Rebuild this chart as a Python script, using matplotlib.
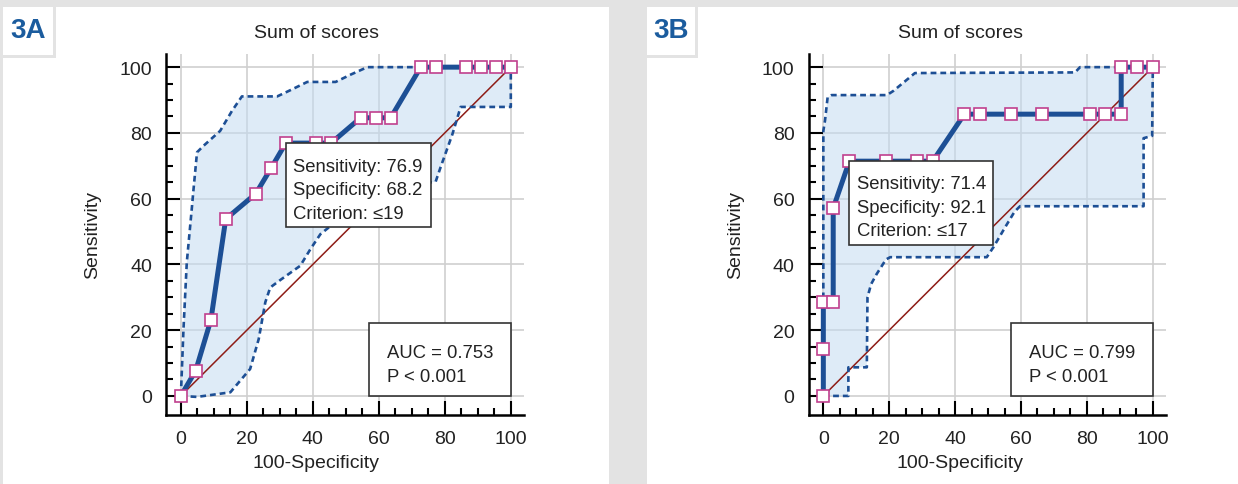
import matplotlib
matplotlib.use('Agg')
import matplotlib.pyplot as plt
from matplotlib.patches import Rectangle

plt.rcParams['font.family'] = ['Liberation Sans', 'DejaVu Sans']

# ----------------------------------------------------------------------
# data: x = 100-Specificity, y = Sensitivity
# ----------------------------------------------------------------------
a_fpr = [0, 4.5, 9.1, 13.6, 22.7, 27.3, 31.8, 40.9, 45.5, 54.5, 59.1, 63.6,
         72.7, 77.3, 86.4, 90.9, 95.5, 100]
a_sens = [0, 7.7, 23.1, 53.8, 61.5, 69.2, 76.9, 76.9, 76.9, 84.6, 84.6, 84.6,
          100, 100, 100, 100, 100, 100]
a_up_x = [0, 0.8, 1.8, 3.3, 3.8, 4.9, 6.9, 11.9, 15.5, 18.5, 29.2, 33.2,
          38.3, 46.9, 51.4, 56.5, 100]
a_up_y = [0, 20.4, 40.6, 56.8, 62.4, 74.1, 76.1, 80.6, 86.7, 91.1, 91.1, 93.0,
          95.5, 95.5, 97.7, 100, 100]
a_lo_x = [0, 4.9, 15.0, 21.0, 23.6, 25.6, 27.1, 30.2, 36.2, 39.3, 42.3, 47,
          53, 60, 76, 77.2, 78.7, 82.3, 84.8, 100, 100]
a_lo_y = [0, -0.3, 1.1, 8.2, 17.3, 28.5, 33.0, 35.3, 39.6, 44.7, 49.2, 53,
          59, 63, 65, 65.1, 69.5, 79.6, 87.9, 87.9, 100]
a_crit = ['Sensitivity: 76.9', 'Specificity: 68.2', 'Criterion: \u226419']
a_auc = ['AUC = 0.753', 'P < 0.001']

b_fpr = [0, 0, 0, 3.0, 3.0, 7.9, 19.0, 28.4, 33.2, 42.8, 47.5, 57.0, 66.5,
         80.8, 85.5, 90.4, 90.4, 95.2, 100]
b_sens = [0, 14.3, 28.6, 28.6, 57.1, 71.4, 71.4, 71.4, 71.4, 85.7, 85.7, 85.7,
          85.7, 85.7, 85.7, 85.7, 100, 100, 100]
b_up_x = [0, 0, 0.5, 1.3, 2.5, 19.3, 21.3, 27.8, 76.4, 77.9, 100]
b_up_y = [0, 80.6, 83.7, 90.8, 91.5, 91.5, 92.8, 98.2, 98.4, 100, 100]
b_lo_x = [0, 7.6, 7.6, 13.2, 13.4, 14.5, 16.2, 19.0, 20.3, 49.6, 51.6, 55.0,
          58.0, 59.7, 97.2, 97.2, 99.8, 100]
b_lo_y = [0, 0, 8.7, 8.7, 30.0, 34.0, 37.1, 41.5, 42.2, 42.2, 45.2, 51.0,
          56.0, 57.7, 57.7, 78.4, 79.1, 100]
b_crit = ['Sensitivity: 71.4', 'Specificity: 92.1', 'Criterion: \u226417']
b_auc = ['AUC = 0.799', 'P < 0.001']

W, H = 1238, 485
BG = '#e3e3e3'
BLUE = '#1d4f95'
INK = '#222222'

fig = plt.figure(figsize=(W / 100, H / 100), dpi=100)
fig.patch.set_facecolor(BG)


def px(x0, y0, x1, y1):
    # figure pixel box (from top-left) -> figure fraction rect
    return [x0 / W, 1 - y1 / H, (x1 - x0) / W, (y1 - y0) / H]


def frame(x0, x1, label, lx1):
    fig.patches.append(Rectangle((x0 / W, 0), (x1 - x0) / W, 1 - 8 / H,
                                 transform=fig.transFigure, fc='white',
                                 ec='none', zorder=-2))
    # gray gap around the label box
    fig.patches.append(Rectangle((x0 / W, 1 - 59 / H), (lx1 + 3 - x0) / W,
                                 3 / H, transform=fig.transFigure, fc=BG,
                                 ec='none', zorder=-1))
    fig.patches.append(Rectangle((lx1 / W, 1 - 59 / H), 3 / W, 51 / H,
                                 transform=fig.transFigure, fc=BG,
                                 ec='none', zorder=-1))
    fig.text((x0 + lx1) / 2 / W, 1 - 31 / H, label, ha='center', va='center',
             fontsize=20, fontweight='bold', color='#1b5c9e')


def roc_panel(rect, fpr, sens, up_x, up_y, lo_x, lo_y, crit, auc,
              crit_box, auc_box, cx):
    ax = fig.add_axes(rect, zorder=2)
    ax.set_facecolor('none')
    ax.set_xlim(-4.5, 104)
    ax.set_ylim(-5.8, 104)

    # confidence band
    ax.fill(up_x + lo_x[::-1], up_y + lo_y[::-1], fc='#c4dcf2', alpha=0.55,
            ec='none', zorder=1)
    ax.plot([0, 100], [0, 100], color='#8e1c16', lw=1.1, zorder=2)
    ax.plot(up_x, up_y, color=BLUE, lw=1.9, ls=(0, (2.2, 1.5)), zorder=3)
    ax.plot(lo_x, lo_y, color=BLUE, lw=1.9, ls=(0, (2.2, 1.5)), zorder=3)
    ax.plot(fpr, sens, color=BLUE, lw=3.6, marker='s', ms=8.5, mfc='white',
            mec='#c0408e', mew=1.2, zorder=4, clip_on=False)

    # criterion box
    x0, y0, w, h = crit_box
    ax.add_patch(Rectangle((x0, y0), w, h, fc='white', ec='#333333',
                           lw=1.2, zorder=5))
    ax.text(x0 + 2.3, y0 + h / 2 - 1.3, '\n'.join(crit), ha='left',
            va='center', fontsize=13.3, color=INK, linespacing=1.5, zorder=6)
    # AUC box
    x0, y0, w, h = auc_box
    ax.add_patch(Rectangle((x0, y0), w, h, fc='white', ec='#333333',
                           lw=1.2, zorder=5))
    ax.text(x0 + 5.5, y0 + h / 2 - 1.5, '\n'.join(auc), ha='left',
            va='center', fontsize=13.3, color=INK, linespacing=1.5,
            zorder=6)

    ax.set_xticks(range(0, 101, 20))
    ax.set_yticks(range(0, 101, 20))
    ax.set_xticks([t for t in range(0, 101, 5) if t % 20], minor=True)
    ax.set_yticks([t for t in range(0, 101, 5) if t % 20], minor=True)
    ax.grid(True, which='major', color='#cfcfcf', lw=1.2)
    ax.set_axisbelow(True)
    for s in ['top', 'right']:
        ax.spines[s].set_visible(False)
    for s in ['left', 'bottom']:
        ax.spines[s].set_linewidth(1.8)
    ax.tick_params(which='major', direction='in', length=10, width=1.5,
                   labelsize=14, pad=11, colors='black', labelcolor=INK)
    ax.tick_params(which='minor', direction='in', length=5, width=1.5)
    ax.tick_params(axis='y', pad=10)

    fig.text(cx / W, 1 - 34 / H, 'Sum of scores', ha='center', va='center',
             fontsize=14, color=INK)
    fig.text(cx / W, 1 - 464 / H, '100-Specificity', ha='center',
             va='center', fontsize=14, color=INK)
    ax.set_ylabel('Sensitivity', fontsize=14, color=INK, labelpad=13)
    return ax


frame(3, 609, '3A', 53)
frame(647, 1238, '3B', 695)

roc_panel(px(166, 55, 524, 416), a_fpr, a_sens, a_up_x, a_up_y,
          a_lo_x, a_lo_y, a_crit, a_auc,
          (31.8, 51.3, 44.0, 25.5), (57.1, 0, 42.9, 22.2), 316)

roc_panel(px(808.5, 55, 1166, 416), b_fpr, b_sens, b_up_x, b_up_y,
          b_lo_x, b_lo_y, b_crit, b_auc,
          (7.9, 46.0, 43.5, 25.5), (56.9, 0, 43.1, 22.1), 960)

fig.savefig('out.png', dpi=100, facecolor=fig.get_facecolor())
